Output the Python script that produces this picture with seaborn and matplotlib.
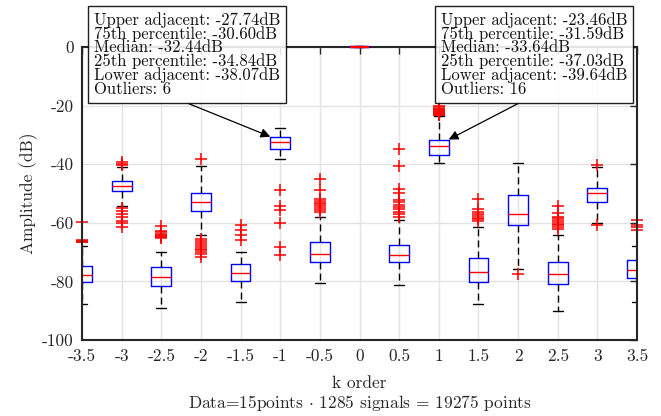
import numpy as np
import pandas as pd
import matplotlib
matplotlib.use("Agg")
import matplotlib.pyplot as plt
import seaborn as sns

# ---- data ----
k_order = [-3.5, -3, -2.5, -2, -1.5, -1, -0.5, 0, 0.5, 1, 1.5, 2, 2.5, 3, 3.5]
upper_adj = [-68.0, -41.0, -70.0, -40.6, -69.9, -27.74, -58.0, 0.0, -59.0, -23.46, -61.5, -39.5, -64.0, -40.8, -68.0]
q75 = [-74.7, -45.6, -75.2, -49.7, -74.2, -30.60, -66.7, 0.0, -67.5, -31.59, -72.1, -50.6, -73.5, -48.0, -72.7]
median = [-77.8, -47.4, -78.4, -53.0, -77.2, -32.44, -70.5, 0.0, -70.9, -33.64, -76.7, -57.0, -77.5, -49.9, -76.1]
q25 = [-80.3, -49.1, -81.6, -56.1, -79.9, -34.84, -73.5, 0.0, -73.5, -37.03, -80.2, -60.8, -80.8, -52.9, -78.9]
lower_adj = [-87.7, -54.3, -89.2, -64.0, -87.1, -38.07, -80.5, 0.0, -81.1, -39.64, -87.8, -75.7, -90.0, -60.0, -87.0]
outliers = [
    [-59.7, -65.8, -66.1, -66.4, -66.7],
    [-39.2, -39.8, -40.3, -55.1, -56.0, -57.1, -58.1, -59.3, -60.2, -61.3],
    [-61.1, -62.8, -63.3, -63.8, -64.2, -64.6, -65.0, -65.3],
    [-38.1, -65.5, -66.3, -67.0, -67.6, -68.2, -68.8, -69.4, -70.0, -70.8, -71.6],
    [-60.8, -62.5, -64.0, -65.9],
    [-48.8, -54.3, -55.6, -60.2, -68.1, -71.0],
    [-45.1, -48.8, -51.9, -52.5, -53.1, -53.7, -54.3, -54.9, -55.5, -56.2],
    [],
    [-34.8, -40.6, -48.6, -49.7, -52.2, -53.0, -53.8, -54.6, -55.4, -56.2, -57.0, -57.9],
    [-20.2, -20.6, -21.0, -21.3, -21.6, -21.9, -22.1, -22.3, -22.5, -22.7, -22.8, -22.9, -23.0, -23.1, -23.2, -23.3],
    [-51.9, -55.3, -56.2, -57.0, -57.6, -58.2, -58.8, -59.4],
    [-77.5],
    [-54.3, -56.8, -57.9, -58.5, -59.1, -59.7, -60.3, -60.9, -61.5, -62.1],
    [-40.2, -60.8],
    [-59.2, -60.8, -61.5, -62.3],
]
x_ticks = k_order
y_ticks = [-100, -80, -60, -40, -20, 0]
annotated = [-1, 1]

# ---- build tables ----
rows = []
for i, k in enumerate(k_order):
    for v in (lower_adj[i], q25[i], median[i], q75[i], upper_adj[i]):
        rows.append({"k": k, "dB": v})
df = pd.DataFrame(rows)
out_rows = [{"k": k, "dB": v} for k, vals in zip(k_order, outliers) for v in vals]
dfo = pd.DataFrame(out_rows)

sns.set_theme(style="white")
plt.rcParams["font.family"] = ["cmr10", "DejaVu Serif"]
plt.rcParams["mathtext.fontset"] = "cm"
plt.rcParams["axes.unicode_minus"] = False
plt.rcParams["axes.formatter.use_mathtext"] = True

fig = plt.figure(figsize=(6.61, 4.16), dpi=100)
ax = fig.add_axes([82 / 661, 1 - 340 / 416, (637 - 82) / 661, (340 - 47) / 416])

sns.boxplot(data=df, x="k", y="dB", native_scale=True, width=0.5, whis=(0, 100),
            showfliers=False, fill=False, color="blue", linewidth=1.0,
            boxprops=dict(color="blue"), medianprops=dict(color="red"),
            whiskerprops=dict(color="black", linestyle=(0, (5, 3))),
            capprops=dict(color="black"), ax=ax, zorder=3)

# the flat box at 0 dB sits on the top edge: draw it unclipped above the frame
for ln in ax.lines:
    yd = np.asarray(ln.get_ydata(), dtype=float)
    if yd.size and np.all(yd == 0):
        ln.set_clip_on(False)
        ln.set_zorder(7)
        ln.set_linewidth(1.6)

sns.scatterplot(data=dfo, x="k", y="dB", marker="+", color="red", s=75,
                linewidth=1.1, ax=ax, zorder=4, clip_on=False, legend=False)

ax.set_xlim(-3.5, 3.5)
ax.set_ylim(-100, 0)
ax.set_xticks(x_ticks)
ax.set_xticklabels([f"{v:g}" for v in x_ticks])
ax.set_yticks(y_ticks)
ax.set_yticklabels([f"{v:g}" for v in y_ticks])
ax.grid(True, color="#e3e3e3", linewidth=1.0, zorder=0)
ax.set_axisbelow(True)
for s in ax.spines.values():
    s.set_color("#262626")
    s.set_linewidth(1.5)
    s.set_zorder(5)
ax.tick_params(direction="in", length=5, width=1.0, top=True, right=True,
               labelsize=12.5, colors="#262626", pad=6)
ax.set_ylabel("Amplitude (dB)", fontsize=12.5, color="#262626", labelpad=3)
ax.set_xlabel("k order\nData=15points $\\cdot$ 1285 signals = 19275 points",
              fontsize=12.5, color="#262626", labelpad=9, linespacing=1.1)

# ---- annotations ----
boxes = {-1: (94, 404, 0.42), 1: (441, 404, 0.48)}
for k in annotated:
    i = k_order.index(k)
    txt = (f"Upper adjacent: {upper_adj[i]:.2f}dB\n"
           f"75th percentile: {q75[i]:.2f}dB\n"
           f"Median: {median[i]:.2f}dB\n"
           f"25th percentile: {q25[i]:.2f}dB\n"
           f"Lower adjacent: {lower_adj[i]:.2f}dB\n"
           f"Outliers: {len(outliers[i])}")
    tx, ty, rel = boxes[k]
    tip_x = k - 0.125 if k < 0 else k + 0.125
    ax.annotate(txt, xy=(tip_x, q75[i]), xytext=(tx, ty), textcoords="figure pixels",
                ha="left", va="top", fontsize=12, linespacing=0.86, color="#111111",
                bbox=dict(boxstyle="square,pad=0.35", fc="white", ec="black", lw=1.0, alpha=0.88),
                arrowprops=dict(arrowstyle="-|>", color="black", lw=0.9, shrinkA=0, shrinkB=0,
                                relpos=(rel, 0.0), mutation_scale=14),
                annotation_clip=False, zorder=10)

fig.savefig("out.png", dpi=100)
